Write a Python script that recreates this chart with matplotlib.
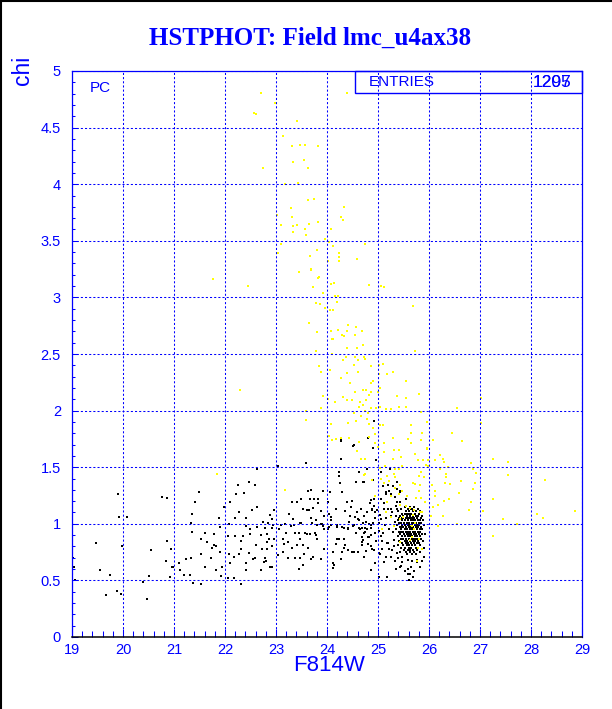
import matplotlib
matplotlib.use('Agg')
import matplotlib.pyplot as plt
from matplotlib.ticker import MultipleLocator, FuncFormatter
from matplotlib.patches import Rectangle
from matplotlib.lines import Line2D

plt.rcParams['font.family'] = ['Liberation Sans', 'DejaVu Sans']
plt.rcParams['lines.scale_dashes'] = False

BLUE = '#0000ff'

# --- data (F814W, chi) ---
# black stars, faint end (x < 21)
black_faint = [(19.02, 0.70), (19.04, 0.62), (19.05, 0.50), (19.47, 0.83), (19.54, 0.59),
               (19.75, 0.55), (19.67, 0.37), (19.88, 0.41), (19.96, 0.38), (19.90, 1.26),
               (19.92, 1.06), (20.08, 1.06), (19.99, 0.80), (20.40, 0.49), (20.47, 0.34),
               (20.51, 0.54), (20.54, 0.77), (20.77, 1.24), (20.87, 1.23), (20.87, 0.85),
               (20.84, 0.67), (20.94, 0.78), (20.97, 0.62), (20.93, 0.53)]

# black stars 21 - 23
black_21_23 = [(22.62, 1.48), (22.48, 1.37), (22.58, 1.34), (22.25, 1.34), (21.50, 1.28),
               (22.38, 1.27), (22.22, 1.26), (21.42, 1.19), (22.10, 1.19), (21.99, 1.15),
               (22.62, 1.15), (22.52, 1.12), (22.27, 1.10), (21.35, 1.09), (22.19, 1.05),
               (21.88, 1.05), (22.41, 1.05), (21.33, 1.01), (22.07, 1.00), (21.90, 0.97),
               (22.42, 0.98), (22.49, 0.95), (22.63, 0.97), (21.36, 0.93), (21.78, 0.91),
               (21.60, 0.92), (22.05, 0.89), (22.19, 0.89), (22.36, 0.89), (22.50, 0.91),
               (22.70, 0.90), (21.53, 0.87), (21.64, 0.84), (21.79, 0.81), (21.82, 0.80),
               (21.75, 0.79), (22.32, 0.85), (22.31, 0.78), (22.61, 0.81), (21.90, 0.75),
               (22.08, 0.73), (22.18, 0.71), (22.27, 0.73), (22.48, 0.74), (22.59, 0.70),
               (21.52, 0.73), (21.23, 0.69), (21.33, 0.70), (21.61, 0.62), (21.72, 0.70),
               (22.09, 0.65), (22.41, 0.65), (22.54, 0.69), (20.98, 0.62), (21.10, 0.65),
               (21.12, 0.59), (21.19, 0.55), (21.31, 0.55), (21.83, 0.59), (21.95, 0.62),
               (21.92, 0.54), (22.05, 0.52), (22.42, 0.59), (21.38, 0.48), (21.52, 0.47),
               (22.32, 0.47), (22.17, 0.52), (22.76, 0.66), (22.73, 0.78), (22.78, 0.70),
               (22.71, 0.59), (22.81, 0.67), (22.83, 0.78), (22.82, 0.84), (22.83, 0.91),
               (22.84, 1.01), (22.88, 0.62), (22.74, 1.02), (22.78, 0.96), (22.88, 1.08),
               (22.97, 1.12), (22.86, 0.87)]

# black stars 23 - 24
black_23_24 = [(23.03, 1.51), (23.59, 1.54), (23.62, 1.29), (23.69, 1.30), (23.93, 1.29),
               (23.42, 1.19), (23.32, 1.19), (23.50, 1.22), (23.66, 1.22), (23.75, 1.22),
               (23.82, 1.22), (23.83, 1.18), (23.53, 1.13), (23.61, 1.12), (23.65, 1.12),
               (23.73, 1.14), (23.88, 1.11), (23.25, 1.09), (23.33, 1.04), (23.68, 1.05),
               (23.79, 1.03), (23.94, 1.07), (23.09, 0.99), (23.18, 1.00), (23.36, 0.99),
               (23.50, 1.01), (23.81, 0.99), (23.91, 1.00), (23.92, 0.98), (23.19, 0.92),
               (23.37, 0.92), (23.46, 0.92), (23.56, 0.92), (23.66, 0.91), (23.76, 0.92),
               (23.79, 0.90), (23.14, 0.87), (23.23, 0.84), (23.48, 0.87), (23.52, 0.81),
               (23.16, 0.82), (23.31, 0.79), (23.41, 0.81), (23.62, 0.79), (23.73, 0.71),
               (23.24, 0.70), (23.37, 0.70), (23.47, 0.70), (23.89, 0.69), (23.03, 0.72),
               (23.13, 0.75), (23.52, 0.64), (23.46, 0.60), (23.05, 0.95), (22.92, 0.96),
               (22.96, 0.87), (22.92, 0.80), (22.93, 1.04), (23.88, 1.00), (23.95, 0.95),
               (23.61, 0.91), (23.71, 1.01), (23.48, 1.01), (23.29, 0.98), (23.94, 0.78),
               (23.81, 0.87), (23.68, 0.69), (23.55, 0.73), (22.95, 0.99), (22.93, 0.62)]

# black stars 24 - 25
black_24_25 = [(24.27, 1.57), (24.24, 1.46), (24.23, 1.42), (24.26, 1.36), (24.30, 1.28),
               (24.06, 1.28), (24.56, 1.37), (24.71, 1.37), (24.63, 1.46), (24.79, 1.48),
               (24.02, 1.19), (24.39, 1.19), (24.50, 1.20), (24.18, 1.13), (24.36, 1.11),
               (24.48, 1.15), (24.08, 1.06), (24.04, 1.09), (24.54, 1.06), (24.63, 1.03),
               (24.72, 1.07), (24.07, 0.99), (24.20, 0.99), (24.33, 0.96), (24.41, 0.96),
               (24.51, 0.98), (24.63, 0.96), (24.75, 0.96), (24.82, 1.00), (24.02, 0.95),
               (24.20, 0.87), (24.33, 0.87), (24.17, 0.82), (24.33, 0.79), (24.41, 0.77),
               (24.52, 0.75), (24.69, 0.81), (24.68, 0.88), (24.12, 0.75), (24.60, 0.75),
               (24.11, 0.65), (24.83, 0.88), (24.27, 1.74), (24.52, 1.70), (24.86, 1.21),
               (24.93, 1.16), (24.89, 1.12), (24.86, 0.99), (24.79, 0.95), (24.73, 0.92),
               (24.65, 0.95), (24.53, 0.99), (24.61, 1.04), (24.46, 1.07), (24.70, 1.01),
               (24.41, 0.95), (24.86, 0.90), (24.97, 0.85), (24.88, 0.78), (24.73, 0.71),
               (24.27, 0.69), (24.14, 0.64), (24.12, 0.61), (24.24, 0.87), (24.35, 0.81),
               (24.50, 0.75), (24.30, 0.75), (24.04, 0.97), (24.07, 1.03), (24.20, 0.97),
               (24.30, 0.97), (24.92, 1.91), (24.81, 1.76), (24.28, 1.73), (24.51, 1.69),
               (24.91, 1.67), (24.84, 1.18), (24.98, 1.12), (24.95, 1.05), (24.78, 1.10),
               (24.66, 1.13), (24.58, 1.10), (24.44, 1.02), (24.56, 0.92), (24.68, 0.84),
               (24.80, 0.82), (24.94, 0.92)]

# black stars 25 - 26 around the clump
black_25_26 = [(24.97, 1.56), (24.73, 1.37), (24.90, 1.39), (25.05, 1.46), (25.24, 1.48),
               (25.09, 1.33), (25.20, 1.34), (25.16, 1.28), (25.26, 1.26), (25.37, 1.31),
               (25.44, 1.28), (25.33, 1.24), (24.92, 1.22), (24.89, 1.13), (24.95, 1.10),
               (25.12, 1.13), (25.25, 1.13), (25.38, 1.13), (25.44, 1.19), (25.54, 1.22),
               (25.38, 1.19), (25.64, 1.13), (25.04, 1.08), (25.15, 1.05), (25.25, 1.07),
               (24.76, 1.02), (24.69, 0.96), (24.86, 0.96), (24.91, 1.01), (24.74, 0.93),
               (24.71, 0.86), (24.80, 0.88), (25.02, 0.94), (25.05, 0.89), (25.08, 0.85),
               (24.92, 0.77), (24.76, 0.76), (24.86, 0.80), (25.02, 0.74), (25.15, 0.71),
               (25.25, 0.71), (25.28, 0.77), (25.20, 0.83), (25.31, 0.86), (25.38, 0.74),
               (25.48, 0.71), (25.58, 0.68), (25.67, 0.67), (25.77, 0.68), (25.87, 0.67),
               (25.44, 0.62), (25.64, 0.62), (25.71, 0.58), (25.58, 0.56), (25.01, 0.53),
               (24.95, 0.65), (24.86, 0.59), (25.82, 0.62), (25.90, 0.71), (25.05, 1.22),
               (25.15, 1.26), (25.22, 1.29), (25.30, 1.33), (25.38, 1.37), (25.44, 1.29),
               (25.12, 1.18), (25.20, 1.13), (25.25, 1.06), (25.02, 1.01), (25.03, 0.73),
               (25.08, 0.78), (25.18, 0.83), (25.34, 0.67), (25.46, 0.63), (25.58, 0.60),
               (25.63, 0.56), (25.17, 0.53), (25.77, 0.66), (25.06, 1.04), (25.10, 0.92),
               (25.13, 0.99), (25.22, 0.95), (25.30, 0.93), (25.33, 1.02), (25.28, 1.10),
               (25.35, 1.16), (25.32, 0.80), (25.22, 0.78), (25.12, 0.66), (25.40, 0.70),
               (25.48, 0.66), (25.36, 0.60), (25.52, 0.58), (25.68, 0.53), (25.60, 0.50)]

# dense clump near F814W ~ 25.65, chi ~ 0.93: chi row -> F814W values
clump_rows = {
    1.15: [25.52, 25.63, 25.71],
    1.13: [25.45, 25.58, 25.66, 25.78],
    1.11: [25.40, 25.55, 25.61, 25.69, 25.74, 25.83],
    1.09: [25.48, 25.52, 25.57, 25.60, 25.65, 25.72, 25.80],
    1.07: [25.36, 25.44, 25.50, 25.57, 25.63, 25.68, 25.75, 25.79, 25.86],
    1.05: [25.42, 25.47, 25.50, 25.55, 25.59, 25.62, 25.66, 25.71, 25.77, 25.84],
    1.03: [25.39, 25.47, 25.53, 25.59, 25.64, 25.69, 25.73, 25.78, 25.82, 25.88],
    1.01: [25.42, 25.45, 25.51, 25.56, 25.61, 25.66, 25.70, 25.75, 25.80, 25.85],
    0.99: [25.38, 25.48, 25.53, 25.58, 25.62, 25.67, 25.72, 25.76, 25.81, 25.90],
    0.97: [25.43, 25.47, 25.50, 25.55, 25.60, 25.64, 25.69, 25.74, 25.79, 25.84],
    0.95: [25.35, 25.46, 25.52, 25.57, 25.62, 25.66, 25.71, 25.76, 25.82, 25.87],
    0.93: [25.41, 25.45, 25.49, 25.54, 25.59, 25.63, 25.68, 25.73, 25.78, 25.83],
    0.91: [25.44, 25.51, 25.56, 25.61, 25.65, 25.70, 25.75, 25.80, 25.86, 25.92],
    0.89: [25.39, 25.47, 25.53, 25.58, 25.63, 25.67, 25.72, 25.77, 25.82],
    0.87: [25.45, 25.50, 25.55, 25.60, 25.66, 25.71, 25.74, 25.79, 25.85],
    0.85: [25.42, 25.52, 25.57, 25.62, 25.68, 25.73, 25.78, 25.88],
    0.83: [25.48, 25.54, 25.59, 25.64, 25.70, 25.76, 25.81],
    0.81: [25.40, 25.50, 25.56, 25.61, 25.67, 25.72, 25.83],
    0.79: [25.46, 25.53, 25.60, 25.65, 25.74, 25.79, 25.90],
    0.77: [25.51, 25.58, 25.63, 25.69, 25.77],
    0.75: [25.44, 25.55, 25.62, 25.71, 25.82],
    0.73: [25.57, 25.66, 25.75],
}

# yellow stars (high chi)
yellow_top = [(22.70, 4.81), (22.99, 4.72), (22.56, 4.63), (22.61, 4.62), (24.40, 4.81),
              (23.41, 4.56), (23.13, 4.43), (23.31, 4.34), (23.48, 4.35), (23.56, 4.35),
              (23.83, 4.34), (23.33, 4.20), (23.54, 4.21), (23.62, 4.14), (22.74, 4.14),
              (23.17, 4.00), (23.44, 4.01), (23.62, 3.86), (23.75, 3.87), (23.30, 3.79),
              (24.33, 3.80), (23.01, 3.73), (23.32, 3.71), (23.09, 3.64), (23.42, 3.64),
              (23.65, 3.65), (23.33, 3.63), (23.82, 3.67), (24.27, 3.71), (24.31, 3.68),
              (23.33, 3.58), (23.56, 3.60), (23.58, 3.55), (24.07, 3.60), (23.97, 3.52),
              (24.03, 3.49), (24.11, 3.45), (23.10, 3.47), (23.03, 3.39), (23.80, 3.42),
              (23.67, 3.37), (24.23, 3.39), (24.23, 3.36), (24.01, 3.32), (24.23, 3.32),
              (24.58, 3.34), (24.74, 3.47), (23.69, 3.25), (23.46, 3.22), (23.84, 3.18),
              (21.76, 3.16), (22.45, 3.10), (22.29, 2.18), (21.84, 1.44), (23.18, 1.30)]

yellow_mid = [(23.69, 3.24), (23.83, 3.17), (23.73, 3.09), (24.07, 3.12), (24.14, 3.13),
              (23.93, 3.04), (24.82, 3.11), (25.05, 3.10), (25.12, 3.09), (24.16, 3.01),
              (24.22, 3.01), (24.19, 2.96), (23.79, 2.95), (23.86, 2.94), (23.96, 2.91),
              (24.05, 2.89), (24.12, 2.89), (25.68, 2.92), (23.64, 2.77), (23.81, 2.69),
              (24.42, 2.76), (24.56, 2.74), (24.08, 2.70), (24.22, 2.71), (24.30, 2.67),
              (24.39, 2.70), (24.34, 2.66), (24.54, 2.67), (24.69, 2.70), (24.09, 2.63),
              (24.12, 2.63), (24.71, 2.58), (24.39, 2.55), (24.58, 2.55), (23.79, 2.53),
              (25.73, 2.53), (24.09, 2.50), (24.31, 2.45), (24.37, 2.47), (24.55, 2.47),
              (24.60, 2.45), (24.72, 2.47), (24.74, 2.46), (24.52, 2.40), (24.87, 2.39),
              (23.84, 2.39), (25.09, 2.41), (25.02, 2.40), (24.05, 2.36), (23.89, 2.34),
              (24.60, 2.34), (25.29, 2.34), (24.39, 2.33), (24.27, 2.29), (25.01, 2.32),
              (25.17, 2.32), (24.91, 2.26), (24.87, 2.24), (25.54, 2.26), (24.45, 2.24),
              (24.70, 2.18), (24.77, 2.18), (25.04, 2.20), (24.54, 2.16), (24.87, 2.16),
              (24.83, 2.14), (25.00, 2.16), (24.32, 2.12), (23.93, 2.13), (25.37, 2.13),
              (25.54, 2.11), (25.81, 2.15), (24.01, 2.10), (24.16, 2.08), (24.40, 2.09),
              (24.50, 2.09), (24.65, 2.08), (24.76, 2.09), (24.62, 2.03), (24.71, 2.05),
              (24.87, 2.02), (24.96, 2.02), (25.03, 2.03), (25.15, 2.01), (25.26, 2.01),
              (25.42, 2.03), (25.54, 2.03), (26.54, 2.02), (25.84, 1.99), (23.58, 2.00),
              (23.89, 2.02), (24.75, 2.00), (24.67, 1.95), (24.81, 1.98), (24.78, 1.93),
              (23.59, 1.92), (24.53, 1.98), (24.07, 1.88), (24.42, 1.89), (24.57, 1.91),
              (24.82, 1.88), (24.91, 1.85), (25.03, 1.87), (25.10, 1.87), (25.65, 1.87),
              (25.97, 1.90), (27.02, 1.89), (24.95, 1.79), (25.65, 1.80), (25.87, 1.80),
              (26.46, 1.80), (24.03, 1.78), (24.10, 1.74), (24.17, 1.75), (24.27, 1.76),
              (24.44, 1.76), (24.82, 1.77), (25.29, 1.76), (25.59, 1.75), (26.08, 1.74),
              (25.85, 1.74), (26.64, 1.73), (24.63, 1.72), (24.95, 1.71), (25.12, 1.71),
              (25.64, 1.71), (25.00, 1.68), (25.97, 1.67), (27.01, 2.11)]

yellow_low = [(25.12, 1.63), (25.32, 1.65), (25.41, 1.65), (25.72, 1.62), (25.96, 1.66),
              (26.22, 1.61), (25.30, 1.57), (25.45, 1.59), (25.79, 1.56), (25.88, 1.56),
              (25.98, 1.56), (26.11, 1.56), (26.28, 1.57), (26.30, 1.55), (25.94, 1.52),
              (25.98, 1.51), (25.47, 1.51), (26.37, 1.50), (26.82, 1.54), (27.26, 1.57),
              (25.33, 1.48), (25.41, 1.48), (25.85, 1.46), (26.22, 1.48), (26.86, 1.48),
              (26.92, 1.45), (25.18, 1.42), (25.34, 1.41), (25.80, 1.42), (25.91, 1.41),
              (26.34, 1.44), (26.33, 1.41), (26.62, 1.38), (25.12, 1.36), (25.21, 1.38),
              (25.68, 1.36), (25.72, 1.35), (25.83, 1.34), (26.05, 1.34), (26.32, 1.36),
              (26.42, 1.35), (26.91, 1.36), (25.33, 1.32), (25.47, 1.29), (25.80, 1.29),
              (26.12, 1.29), (26.87, 1.31), (25.41, 1.26), (26.12, 1.25), (26.39, 1.22),
              (26.59, 1.27), (27.25, 1.22), (25.84, 1.23), (25.74, 1.23), (25.92, 1.19),
              (26.08, 1.15), (26.18, 1.17), (26.30, 1.20), (26.82, 1.19), (25.43, 1.17),
              (25.55, 1.16), (25.62, 1.14), (25.70, 1.12), (25.82, 1.10), (26.03, 1.07),
              (26.28, 1.07), (26.79, 1.12), (27.05, 1.11), (26.54, 1.00), (26.18, 0.98),
              (25.64, 0.99), (25.43, 1.04), (25.49, 1.06), (25.25, 1.06), (25.16, 1.10),
              (25.70, 0.95), (25.67, 0.88), (25.86, 0.78), (25.76, 0.67), (27.26, 0.89),
              (27.54, 1.55), (27.54, 1.43), (28.27, 1.39), (28.12, 1.09), (28.23, 1.05),
              (28.86, 1.11), (27.46, 1.04), (27.73, 1.00), (24.73, 1.43), (24.89, 1.39),
              (25.04, 1.49), (25.13, 1.51), (25.31, 1.44), (25.43, 1.34), (25.26, 1.25),
              (25.18, 1.19), (25.56, 1.25), (25.69, 1.08), (25.87, 1.10), (25.72, 1.01),
              (25.62, 0.86), (25.43, 0.84), (25.67, 0.98), (25.31, 0.98), (25.78, 0.79),
              (25.81, 0.87), (25.07, 0.95), (24.95, 1.25), (25.05, 1.40), (24.10, 1.74),
              (24.63, 1.72), (24.58, 1.64), (24.66, 1.57), (24.75, 1.57), (24.75, 1.44)]

entries = ['1297', '1205']

# --- assemble ---
black = black_faint + black_21_23 + black_23_24 + black_24_25 + black_25_26
clump = [(x, y) for y, xs in clump_rows.items() for x in xs]
yellow = yellow_top + yellow_mid + yellow_low

fig = plt.figure(figsize=(6.12, 7.09), dpi=100)
ax = fig.add_axes([72/612, 72/709, 510/612, 566/709])

ax.scatter([p[0] for p in black], [p[1] for p in black], s=2.6, marker='s',
           c='black', linewidths=0, zorder=1)
ax.scatter([p[0] for p in clump], [p[1] for p in clump], s=4.2, marker='s',
           c='black', linewidths=0, zorder=1)
ax.scatter([p[0] for p in yellow], [p[1] for p in yellow], s=2.6, marker='s',
           c='#ffff00', linewidths=0, zorder=1.1)

ax.set_xlim(19, 29)
ax.set_ylim(0, 5)
ax.xaxis.set_major_locator(MultipleLocator(1))
ax.xaxis.set_minor_locator(MultipleLocator(0.2))
ax.yaxis.set_major_locator(MultipleLocator(0.5))
ax.yaxis.set_minor_locator(MultipleLocator(0.1))
ax.yaxis.set_major_formatter(FuncFormatter(lambda v, p: f'{v:g}'))

ax.grid(True, which='major', color=BLUE, lw=0.75, linestyle=(0, (1.5, 1.5)))
ax.tick_params(axis='x', which='major', direction='in', length=6, width=0.75,
               colors=BLUE, labelsize=10.5, pad=4)
ax.tick_params(axis='x', which='minor', direction='in', length=4.3, width=0.75, colors=BLUE)
ax.tick_params(axis='y', which='major', direction='in', length=4, width=0.75,
               colors=BLUE, labelsize=10.5, pad=8)
ax.tick_params(axis='y', which='minor', direction='in', length=2.3, width=0.75, colors=BLUE)

for side in ['left', 'top', 'right']:
    ax.spines[side].set_color(BLUE)
    ax.spines[side].set_linewidth(0.9)
ax.spines['bottom'].set_color('black')
ax.spines['bottom'].set_linewidth(1.1)

# stats box
ax.add_patch(Rectangle((0.555, 0.961), 0.445, 0.039, transform=ax.transAxes,
                       fill=False, edgecolor=BLUE, lw=1.0, zorder=5, clip_on=False))
ax.text(0.582, 0.980, 'ENTRIES', transform=ax.transAxes, color=BLUE,
        fontsize=11, ha='left', va='center', zorder=6)
for s in entries:
    ax.text(0.980, 0.980, s, transform=ax.transAxes, color=BLUE,
            fontsize=12.5, ha='right', va='center', zorder=6)

ax.text(0.055, 0.970, 'PC', transform=ax.transAxes, color=BLUE,
        fontsize=11, ha='center', va='center')

fig.text(0.537, 0.061, 'F814W', color=BLUE, fontsize=16, ha='center', va='center')
fig.text(0.036, 0.901, 'chi', color=BLUE, fontsize=16.5, ha='center', va='center',
         rotation=90)
fig.text(0.507, 0.946, 'HSTPHOT: Field lmc_u4ax38', color=BLUE, fontsize=18,
         fontweight='bold', family='Liberation Serif', ha='center', va='center')

# black frame at the left and top edge of the picture
fig.add_artist(Line2D([0.002, 0.002], [0, 1], transform=fig.transFigure, color='black', lw=1.5))
fig.add_artist(Line2D([0, 1], [0.999, 0.999], transform=fig.transFigure, color='black', lw=1.5))

fig.savefig('out.png', dpi=100)
